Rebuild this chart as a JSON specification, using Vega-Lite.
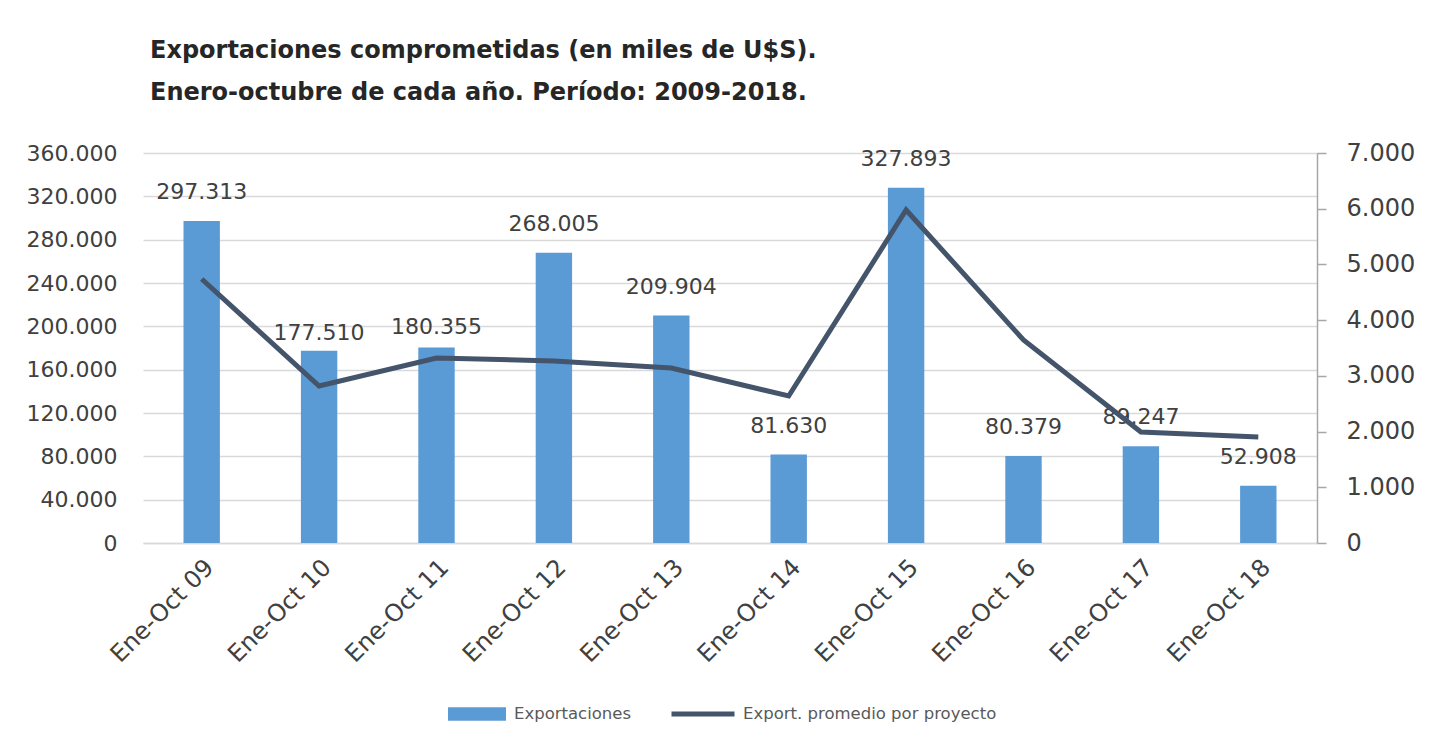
{
  "$schema": "https://vega.github.io/schema/vega-lite/v6.json",
  "autosize": {"type": "none"},
  "width": 1174,
  "height": 390,
  "padding": {"left": 143, "top": 153, "right": 120, "bottom": 204},
  "background": "white",
  "config": {
    "locale": {"number": {"decimal": ",", "thousands": ".", "grouping": [3], "currency": ["$", ""]}},
    "font": "DejaVu Sans",
    "view": {"stroke": null}
  },
  "title": {
    "text": ["Exportaciones comprometidas (en miles de U$S).", "Enero-octubre de cada año. Período: 2009-2018."],
    "anchor": "start",
    "frame": "group",
    "dx": 7,
    "offset": 36,
    "font": "DejaVu Sans",
    "fontSize": 24,
    "fontWeight": "bold",
    "color": "#262626",
    "lineHeight": 42
  },
  "data": {
    "values": [
      {"periodo": "Ene-Oct 09", "exportaciones": 297313, "promedio": 4738},
      {"periodo": "Ene-Oct 10", "exportaciones": 177510, "promedio": 2818},
      {"periodo": "Ene-Oct 11", "exportaciones": 180355, "promedio": 3321},
      {"periodo": "Ene-Oct 12", "exportaciones": 268005, "promedio": 3267},
      {"periodo": "Ene-Oct 13", "exportaciones": 209904, "promedio": 3141},
      {"periodo": "Ene-Oct 14", "exportaciones": 81630, "promedio": 2638},
      {"periodo": "Ene-Oct 15", "exportaciones": 327893, "promedio": 5977},
      {"periodo": "Ene-Oct 16", "exportaciones": 80379, "promedio": 3644},
      {"periodo": "Ene-Oct 17", "exportaciones": 89247, "promedio": 1992},
      {"periodo": "Ene-Oct 18", "exportaciones": 52908, "promedio": 1903}
    ]
  },
  "encoding": {
    "x": {
      "field": "periodo",
      "type": "nominal",
      "sort": null,
      "scale": {"paddingInner": 0.69, "paddingOuter": 0.345},
      "axis": {
        "title": null,
        "labelAngle": -45,
        "labelFontSize": 24,
        "labelColor": "#404040",
        "labelPadding": 12,
        "labelDx": 6,
        "ticks": false,
        "domainColor": "#d9d9d9",
        "domainWidth": 1.5
      }
    }
  },
  "layer": [
    {
      "encoding": {
        "y": {
          "field": "exportaciones",
          "type": "quantitative",
          "scale": {"domain": [0, 360000], "nice": false},
          "axis": {
            "title": null,
            "orient": "left",
            "values": [0, 40000, 80000, 120000, 160000, 200000, 240000, 280000, 320000, 360000],
            "format": ",d",
            "domain": false,
            "ticks": false,
            "grid": true,
            "gridColor": "#d9d9d9",
            "gridWidth": 1.5,
            "labelFontSize": 22,
            "labelColor": "#404040",
            "labelPadding": 26
          }
        }
      },
      "layer": [
        {
          "mark": {"type": "bar", "color": "#5B9BD5"},
          "encoding": {
            "fill": {
              "datum": "Exportaciones",
              "type": "nominal",
              "scale": {"domain": ["Exportaciones"], "range": ["#5B9BD5"]},
              "legend": {
                "title": null,
                "orient": "none",
                "legendX": 305,
                "legendY": 532,
                "padding": 0,
                "symbolType": "M-1,-0.23H1V0.23H-1Z",
                "symbolSize": 3364,
                "symbolStrokeWidth": 0,
                "labelFontSize": 16.5,
                "labelColor": "#595959",
                "labelOffset": 8,
                "labelLimit": 400
              }
            }
          }
        },
        {
          "transform": [{"filter": {"not": {"field": "periodo", "oneOf": ["Ene-Oct 10", "Ene-Oct 11"]}}}],
          "mark": {"type": "text", "baseline": "middle", "dy": -29, "fontSize": 22, "color": "#404040"},
          "encoding": {"text": {"field": "exportaciones", "type": "quantitative", "format": ",d"}}
        },
        {
          "transform": [{"filter": {"field": "periodo", "equal": "Ene-Oct 10"}}],
          "mark": {"type": "text", "baseline": "middle", "dy": -18, "fontSize": 22, "color": "#404040"},
          "encoding": {"text": {"field": "exportaciones", "type": "quantitative", "format": ",d"}}
        },
        {
          "transform": [{"filter": {"field": "periodo", "equal": "Ene-Oct 11"}}],
          "mark": {"type": "text", "baseline": "middle", "dy": -21, "fontSize": 22, "color": "#404040"},
          "encoding": {"text": {"field": "exportaciones", "type": "quantitative", "format": ",d"}}
        }
      ]
    },
    {
      "mark": {"type": "line", "strokeWidth": 5, "strokeJoin": "miter", "strokeCap": "butt"},
      "encoding": {
        "y": {
          "field": "promedio",
          "type": "quantitative",
          "scale": {"domain": [0, 7000], "nice": false},
          "axis": {
            "title": null,
            "orient": "right",
            "values": [0, 1000, 2000, 3000, 4000, 5000, 6000, 7000],
            "format": ",d",
            "grid": false,
            "domainColor": "#a6a6a6",
            "domainWidth": 1.5,
            "tickColor": "#a6a6a6",
            "tickSize": 9,
            "tickWidth": 1.5,
            "labelFontSize": 24,
            "labelColor": "#404040",
            "labelPadding": 20
          }
        },
        "stroke": {
          "datum": "Export. promedio por proyecto",
          "type": "nominal",
          "scale": {"domain": ["Export. promedio por proyecto"], "range": ["#44546A"]},
          "legend": {
            "title": null,
            "orient": "none",
            "legendX": 526,
            "legendY": 527,
            "padding": 0,
            "symbolType": "stroke",
            "symbolSize": 3969,
            "symbolStrokeWidth": 5,
            "labelFontSize": 16.5,
            "labelColor": "#595959",
            "labelOffset": 6,
            "labelLimit": 400
          }
        }
      }
    }
  ],
  "resolve": {"scale": {"y": "independent", "fill": "independent", "stroke": "independent"}}
}
